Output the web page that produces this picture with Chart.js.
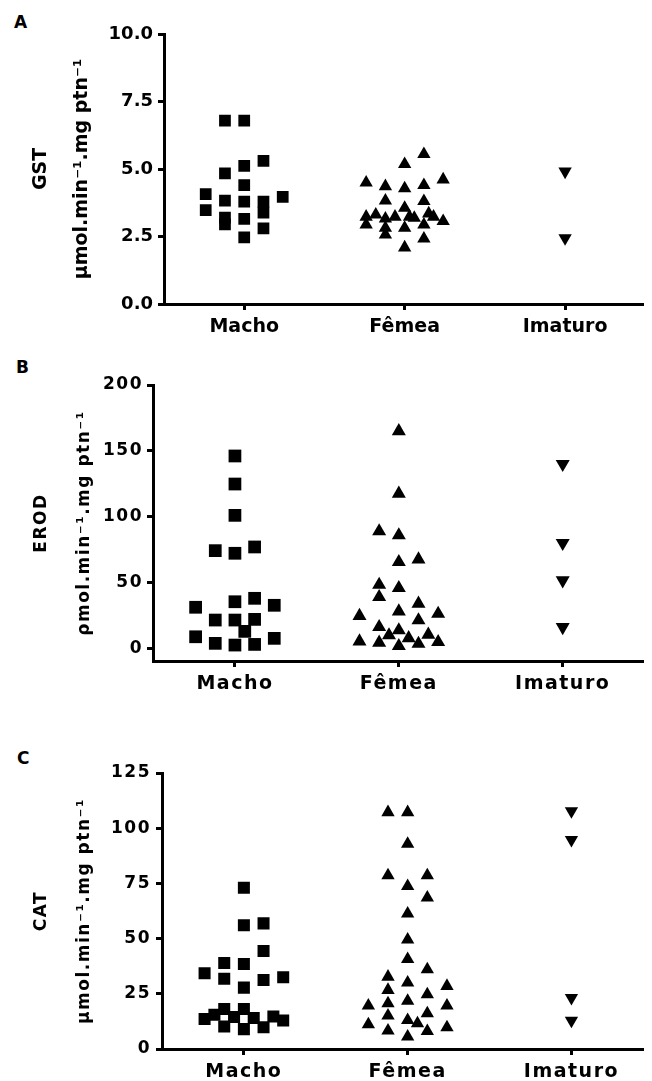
<!DOCTYPE html>
<html lang="pt">
<head>
<meta charset="UTF-8" />
<title>GST, EROD e CAT</title>
<script src="https://cdn.jsdelivr.net/npm/chart.js"></script>
<style>
  body { margin: 0; background: #fff; width: 652px; height: 1081px; position: relative; overflow: hidden; font-family: "DejaVu Sans", sans-serif; }
  canvas { position: absolute; left: 0; }
  .letter { position: absolute; font-weight: bold; font-size: 17px; line-height: 17px; color: #000; }
</style>
</head>
<body>
<div class="letter" style="left:14px;top:14px">A</div>
<div class="letter" style="left:16px;top:359px">B</div>
<div class="letter" style="left:17px;top:750px">C</div>
<canvas id="gstChart" width="652" height="340" style="top:0"></canvas>
<canvas id="erodChart" width="652" height="360" style="top:340px"></canvas>
<canvas id="catChart" width="652" height="381" style="top:700px"></canvas>
<script>
const groups = ["Macho", "Fêmea", "Imaturo"];
const JITTER = 0.06; // horizontal step between columns of a group, in category units

// A - GST
const gstTicks = [0, 2.5, 5, 7.5, 10];
const gstMacho = [6.79, 6.79, 5.30, 5.12, 4.84, 4.40, 4.07, 3.97, 3.83, 3.79, 3.79, 3.48, 3.38, 3.20, 2.95, 3.15, 2.80, 2.47];
const gstMachoCol = [-2, 0, 2, 0, -2, 0, -4, 4, -2, 0, 2, -4, 2, -2, -2, 0, 2, 0];
const gstFemea = [5.55, 5.18, 4.61, 4.49, 4.36, 4.28, 4.40, 3.83, 3.81, 3.56, 3.23, 3.31, 3.16, 3.23, 3.23, 3.19, 3.35, 3.23, 3.07, 2.94, 2.82, 2.82, 2.94, 2.57, 2.42, 2.09];
const gstFemeaCol = [2, 0, 4, -4, -2, 0, 2, -2, 2, 0, -4, -3, -2, -1, 0.5, 1, 2.5, 3, 4, -4, -2, 0, 2, -2, 2, 0];
const gstImaturo = [4.91, 2.44];

// B - EROD
const erodTicks = [0, 50, 100, 150, 200];
const erodMacho = [146.1, 124.8, 101.0, 74.2, 72.2, 77.0, 35.4, 38.0, 32.7, 31.2, 21.5, 21.5, 22.0, 12.9, 8.8, 7.6, 3.8, 2.5, 3.0];
const erodMachoCol = [0, 0, 0, -2, 0, 2, 0, 2, 4, -4, -2, 0, 2, 1, -4, 4, -2, 0, 2];
const erodFemea = [164.9, 117.5, 88.9, 85.9, 65.6, 67.6, 48.3, 45.8, 39.0, 33.9, 28.1, 24.6, 26.3, 21.3, 16.2, 13.7, 9.9, 7.8, 10.4, 5.3, 4.3, 1.8, 3.5, 4.8];
const erodFemeaCol = [0, 0, -2, 0, 0, 2, -2, 0, -2, 2, 0, -4, 4, 2, -2, 0, -1, 1, 3, -4, -2, 0, 2, 4];
const erodImaturo = [140, 80, 51.7, 16.2];

// C - CAT
const catTicks = [0, 25, 50, 75, 100, 125];
const catMacho = [73.0, 56.0, 56.9, 44.4, 38.9, 38.5, 34.3, 31.8, 31.3, 32.5, 27.8, 18.1, 18.1, 13.6, 15.5, 14.5, 14.0, 14.7, 12.9, 10.2, 9.0, 9.8];
const catMachoCol = [0, 0, 2, 2, -2, 0, -4, -2, 2, 4, 0, -2, 0, -4, -3, -1, 1, 3, 4, -2, 0, 2];
const catFemea = [107.2, 107.2, 92.9, 78.6, 78.6, 73.7, 68.5, 61.3, 49.5, 40.7, 36.0, 32.7, 30.0, 28.5, 26.7, 24.7, 21.8, 19.6, 20.6, 19.6, 16.1, 15.1, 13.1, 11.6, 11.1, 9.8, 8.3, 8.1, 5.6];
const catFemeaCol = [-2, 0, 0, -2, 2, 0, 2, 0, 0, 0, 2, -2, 0, 4, -2, 2, 0, -4, -2, 4, 2, -2, 0, 1, -4, 4, -2, 2, 0];
const catImaturo = [107.8, 94.7, 23.2, 12.9];

const FONT = "DejaVu Sans";

function jitter(values, cols, group) {
  return values.map((v, i) => ({ x: group + (cols ? cols[i] : 0) * JITTER, y: v }));
}

function groupSets(macho, machoCol, femea, femeaCol, imaturo, sizes) {
  const base = { backgroundColor: "#000", borderColor: "#000", borderWidth: 0, showLine: false };
  return [
    { ...base, data: jitter(macho, machoCol, 1), pointStyle: "rect", pointRadius: sizes[0] },
    { ...base, data: jitter(femea, femeaCol, 2), pointStyle: "triangle", pointRadius: sizes[1] },
    { ...base, data: jitter(imaturo, null, 3), pointStyle: "triangle", pointRadius: sizes[1], pointRotation: 180 },
  ];
}

function panel(id, cfg) {
  const spacing = cfg.spacing + "px";
  new Chart(document.getElementById(id), {
    type: "scatter",
    data: { datasets: cfg.datasets },
    options: {
      responsive: false,
      animation: false,
      events: [],
      layout: { padding: { top: cfg.top, right: cfg.right, bottom: 0, left: 0 } },
      plugins: { legend: { display: false }, tooltip: { enabled: false } },
      scales: {
        x: {
          type: "linear",
          min: 0.5,
          max: cfg.xMax,
          afterBuildTicks: (s) => { s.ticks = groups.map((g, i) => ({ value: i + 1 })); },
          afterFit: (s) => { s.height = cfg.xHeight; },
          ticks: {
            callback: (v) => groups[v - 1],
            color: "#000",
            padding: 6,
            maxRotation: 0,
            autoSkip: false,
            font: { family: FONT, size: cfg.catSize, weight: "bold" },
          },
          grid: { drawOnChartArea: false, color: "#000", tickLength: 6, tickWidth: 3 },
          border: { color: "#000", width: 3 },
        },
        y: {
          min: cfg.yMin,
          max: cfg.yMax,
          afterBuildTicks: (s) => { s.ticks = cfg.yTicks.map((v) => ({ value: v })); },
          afterFit: (s) => { s.width = cfg.yWidth; },
          ticks: {
            callback: cfg.fmt,
            color: "#000",
            padding: cfg.yPad,
            font: { family: FONT, size: cfg.tickSize, weight: "bold" },
          },
          grid: { drawOnChartArea: false, color: "#000", tickLength: 6, tickWidth: 3 },
          border: { color: "#000", width: 3 },
          title: {
            display: true,
            text: cfg.title,
            color: "#000",
            padding: { top: cfg.titlePad, bottom: 0 },
            font: { family: FONT, size: cfg.titleSize, weight: "bold", lineHeight: cfg.titleLine },
          },
        },
      },
    },
    plugins: [{
      id: "spacing",
      beforeUpdate: (c) => { c.ctx.letterSpacing = spacing; },
      beforeDraw: (c) => { c.ctx.letterSpacing = spacing; },
    }],
  });
}

panel("gstChart", {
  datasets: groupSets(gstMacho, gstMachoCol, gstFemea, gstFemeaCol, gstImaturo, [8.3, 7.7]),
  top: 34, right: 1, xMax: 3.49, xHeight: 36,
  yMin: 0, yMax: 10, yTicks: gstTicks, fmt: (v) => v.toFixed(1),
  yWidth: 164, yPad: 5, tickSize: 18, catSize: 19, spacing: 0,
  title: ["GST", "\u00b5mol.min\u207b\u00b9.mg ptn\u207b\u00b9"], titleSize: 19, titleLine: 2.15, titlePad: 21,
});

panel("erodChart", {
  datasets: groupSets(erodMacho, erodMachoCol, erodFemea, erodFemeaCol, erodImaturo, [9, 8.1]),
  top: 45, right: 0, xMax: 3.49, xHeight: 39,
  yMin: -9.6, yMax: 200, yTicks: erodTicks, fmt: (v) => v,
  yWidth: 153, yPad: 4, tickSize: 17, catSize: 19, spacing: 1.5,
  title: ["EROD", "\u03c1mol.min\u207b\u00b9.mg ptn\u207b\u00b9"], titleSize: 17, titleLine: 2.53, titlePad: 20,
});

panel("catChart", {
  datasets: groupSets(catMacho, catMachoCol, catFemea, catFemeaCol, catImaturo, [8.5, 7.7]),
  top: 73, right: 0, xMax: 3.44, xHeight: 32,
  yMin: 0, yMax: 125, yTicks: catTicks, fmt: (v) => v,
  yWidth: 162, yPad: 5, tickSize: 17, catSize: 19, spacing: 1.5,
  title: ["CAT", "\u00b5mol.min\u207b\u00b9.mg ptn\u207b\u00b9"], titleSize: 17, titleLine: 2.53, titlePad: 20,
});
</script>
</body>
</html>
